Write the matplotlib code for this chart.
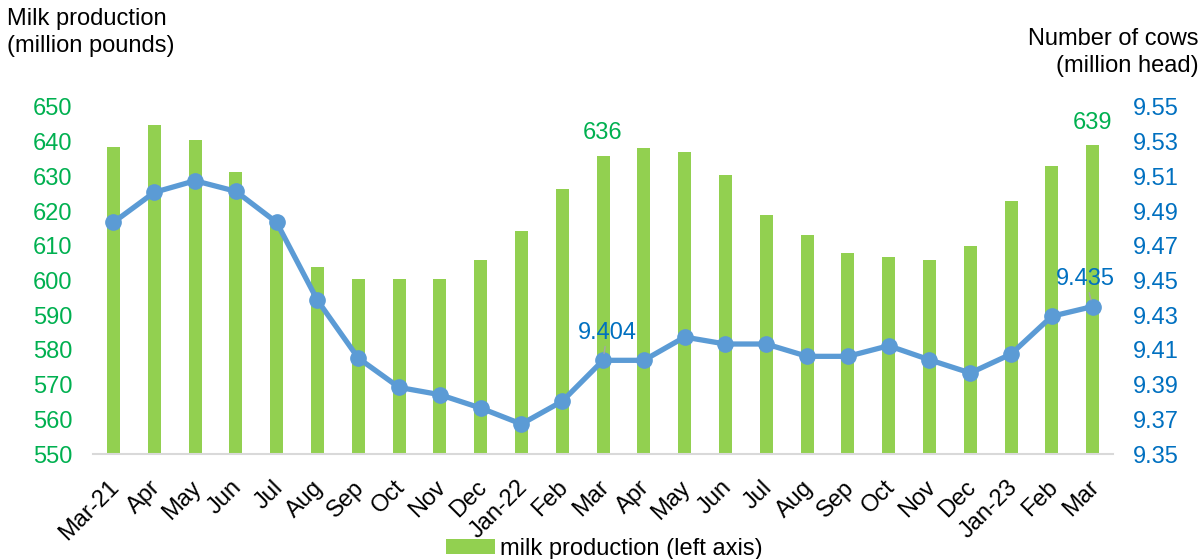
import matplotlib
matplotlib.use("Agg")
import matplotlib.pyplot as plt
from matplotlib.transforms import ScaledTranslation

plt.rcParams['font.family'] = ['Liberation Sans', 'DejaVu Sans']

months = ["Mar-21", "Apr", "May", "Jun", "Jul", "Aug", "Sep", "Oct", "Nov", "Dec",
          "Jan-22", "Feb", "Mar", "Apr", "May", "Jun", "Jul", "Aug", "Sep", "Oct",
          "Nov", "Dec", "Jan-23", "Feb", "Mar"]

milk_production = [638.5, 644.8, 640.5, 631.3, 617.2, 603.9, 600.4, 600.4, 600.4, 605.9,
                   614.3, 626.4, 636.0, 638.2, 637.1, 630.4, 618.9, 613.1, 607.9, 606.8,
                   605.9, 610.0, 622.9, 633.0, 639.0]

cows = [9.4835, 9.5008, 9.5075, 9.5014, 9.4835, 9.4386, 9.4053, 9.3884, 9.3842, 9.3765,
        9.3673, 9.3804, 9.404, 9.404, 9.4174, 9.4134, 9.4134, 9.4063, 9.4063, 9.4124,
        9.4043, 9.3967, 9.4076, 9.4294, 9.435]

left_ticks = [550, 560, 570, 580, 590, 600, 610, 620, 630, 640, 650]
right_ticks = [9.35, 9.37, 9.39, 9.41, 9.43, 9.45, 9.47, 9.49, 9.51, 9.53, 9.55]

GREEN_BAR = "#92D050"
GREEN_TXT = "#00B050"
BLUE_LINE = "#5B9BD5"
BLUE_TXT = "#0070C0"
FS = 17

fig = plt.figure(figsize=(12.02, 5.59), dpi=100)
ax = fig.add_axes([0.0774, 0.1878, 0.8486, 0.6208])
x = list(range(len(months)))

bars = ax.bar(x, milk_production, width=0.32, color=GREEN_BAR, zorder=2,
              label="milk production (left axis)")
ax.set_ylim(550, 650)
ax.set_xlim(-0.5, len(months) - 0.5)
ax.set_yticks(left_ticks)
ax.tick_params(axis='y', colors=GREEN_TXT, labelsize=FS, length=0, pad=15)
ax.set_xticks(x)
ax.set_xticklabels(months, rotation=45, ha='right', rotation_mode='anchor', fontsize=FS)
ax.tick_params(axis='x', length=0, pad=6)
shift = ScaledTranslation(-5 / 100, -14 / 100, fig.dpi_scale_trans)
for lbl in ax.get_xticklabels():
    lbl.set_transform(lbl.get_transform() + shift)
for s in ['top', 'right', 'left']:
    ax.spines[s].set_visible(False)
ax.spines['bottom'].set_color("#D9D9D9")
ax.spines['bottom'].set_linewidth(1.5)

ax2 = ax.twinx()
ax2.plot(x, cows, color=BLUE_LINE, lw=3.8, marker='o', markersize=11, zorder=3)
ax2.set_ylim(9.35, 9.55)
ax2.set_yticks(right_ticks)
ax2.set_yticklabels([f"{v:.2f}" for v in right_ticks])
ax2.tick_params(axis='y', colors=BLUE_TXT, labelsize=FS, length=0, pad=14)
for s in ax2.spines.values():
    s.set_visible(False)

# Value labels on bars
for i in (12, 24):
    ax.annotate(f"{milk_production[i]:.0f}", (x[i], milk_production[i]),
                xytext=(0, 8), textcoords='offset points', ha='center', va='bottom',
                color=GREEN_TXT, fontsize=FS)

# Value labels on line, with short leader lines
for i, dx in ((12, 3), (24, -5)):
    ax2.annotate(f"{cows[i]:.3f}", (x[i], cows[i]),
                 xytext=(dx, 12), textcoords='offset points', ha='center', va='bottom',
                 color=BLUE_TXT, fontsize=FS,
                 arrowprops=dict(arrowstyle='-', color='#A6A6A6', lw=1,
                                 shrinkA=0, shrinkB=5))

fig.text(0.006, 0.985, "Milk production\n(million pounds)", ha='left', va='top',
         fontsize=FS, linespacing=1.3)
fig.text(0.997, 0.95, "Number of cows\n(million head)", ha='right', va='top',
         fontsize=FS, linespacing=1.3, multialignment='right')

fig.legend(handles=[bars], loc='center', bbox_to_anchor=(0.5025, 0.018),
           frameon=False, fontsize=FS, handlelength=2.1, handleheight=0.6,
           handletextpad=0.2)

fig.savefig("out.png", dpi=100)
